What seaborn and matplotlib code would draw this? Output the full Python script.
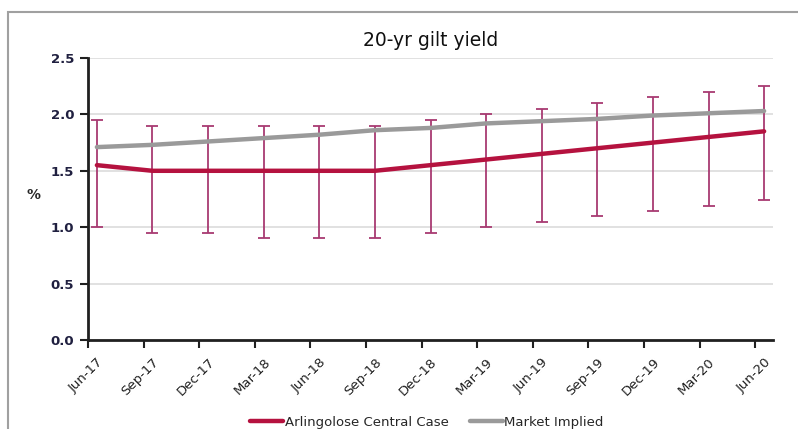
import matplotlib.pyplot as plt
import numpy as np
import pandas as pd
import seaborn as sns
from matplotlib.patches import Rectangle

dates = ["Jun-17", "Sep-17", "Dec-17", "Mar-18", "Jun-18", "Sep-18", "Dec-18",
         "Mar-19", "Jun-19", "Sep-19", "Dec-19", "Mar-20", "Jun-20"]
central = [1.55, 1.50, 1.50, 1.50, 1.50, 1.50, 1.55, 1.60, 1.65, 1.70, 1.75, 1.80, 1.85]
market = [1.71, 1.73, 1.76, 1.79, 1.82, 1.86, 1.88, 1.92, 1.94, 1.96, 1.99, 2.01, 2.03]
upper = [1.95, 1.90, 1.90, 1.90, 1.90, 1.90, 1.95, 2.00, 2.05, 2.10, 2.15, 2.20, 2.25]
lower = [1.00, 0.95, 0.95, 0.90, 0.90, 0.90, 0.95, 1.00, 1.05, 1.10, 1.14, 1.19, 1.24]

sns.set_style("white")
plt.rcParams["font.family"] = ["DejaVu Sans"]

pos = np.arange(len(dates)) + 0.16
df = pd.DataFrame({"pos": pos, "central": central, "market": market})

fig = plt.figure(figsize=(7.98, 4.29), dpi=100)
fig.patches.append(Rectangle((8 / 798, -0.1), 1.0, 1 - 12 / 429 + 0.1,
                             transform=fig.transFigure, fill=False,
                             edgecolor="#a0a0a0", linewidth=1.5))
ax = fig.add_axes([88 / 798, 1 - 340 / 429, (773 - 88) / 798, (340 - 58) / 429])

c = np.array(central)
ax.errorbar(pos, c, yerr=[c - np.array(lower), np.array(upper) - c], fmt="none",
            ecolor="#a83a72", elinewidth=1.3, capsize=4, capthick=1.3, zorder=2)
sns.lineplot(data=df, x="pos", y="central", ax=ax, color="#b5123f", linewidth=3.2,
             label="Arlingolose Central Case", zorder=3)
sns.lineplot(data=df, x="pos", y="market", ax=ax, color="#9a9a9a", linewidth=3.2,
             label="Market Implied", zorder=3)

ax.set_xlim(0, 12.32)
ax.set_ylim(0, 2.5)
ax.set_yticks(np.arange(0, 2.51, 0.5))
ax.set_yticklabels([f"{v:.1f}" for v in np.arange(0, 2.51, 0.5)],
                   fontsize=9.5, fontweight="bold", color="#202040")
ax.grid(axis="y", color="#dcdcdc", linewidth=1.2)
ax.set_axisbelow(True)

ax.set_xticks(pos)
ax.set_xticklabels(dates, rotation=45, ha="right", rotation_mode="anchor",
                   fontsize=9.5, color="#202020")
ax.set_xticks(np.arange(len(dates)), minor=True)
ax.tick_params(axis="x", which="major", length=0, pad=11)
ax.tick_params(axis="x", which="minor", length=6, width=1.5, color="#202020",
               direction="out", bottom=True)
ax.tick_params(axis="y", length=6, width=1.5, color="#202020", direction="out",
               left=True, pad=4)

for s in ["top", "right"]:
    ax.spines[s].set_visible(False)
for s in ["left", "bottom"]:
    ax.spines[s].set_color("#202020")
    ax.spines[s].set_linewidth(2)

ax.set_xlabel("")
ax.set_ylabel("%", rotation=0, fontsize=10, fontweight="bold")
ax.yaxis.set_label_coords(-0.08, 0.49)
ax.set_title("20-yr gilt yield", fontsize=13.5, pad=9, color="#101010")

ax.legend(loc="lower center", bbox_to_anchor=(0.535, -0.018),
          bbox_transform=fig.transFigure, ncol=2, frameon=False, fontsize=9.5,
          handlelength=2.5, columnspacing=1.6, handletextpad=0.1, borderpad=0.1)

fig.savefig("out.png", dpi=100)
